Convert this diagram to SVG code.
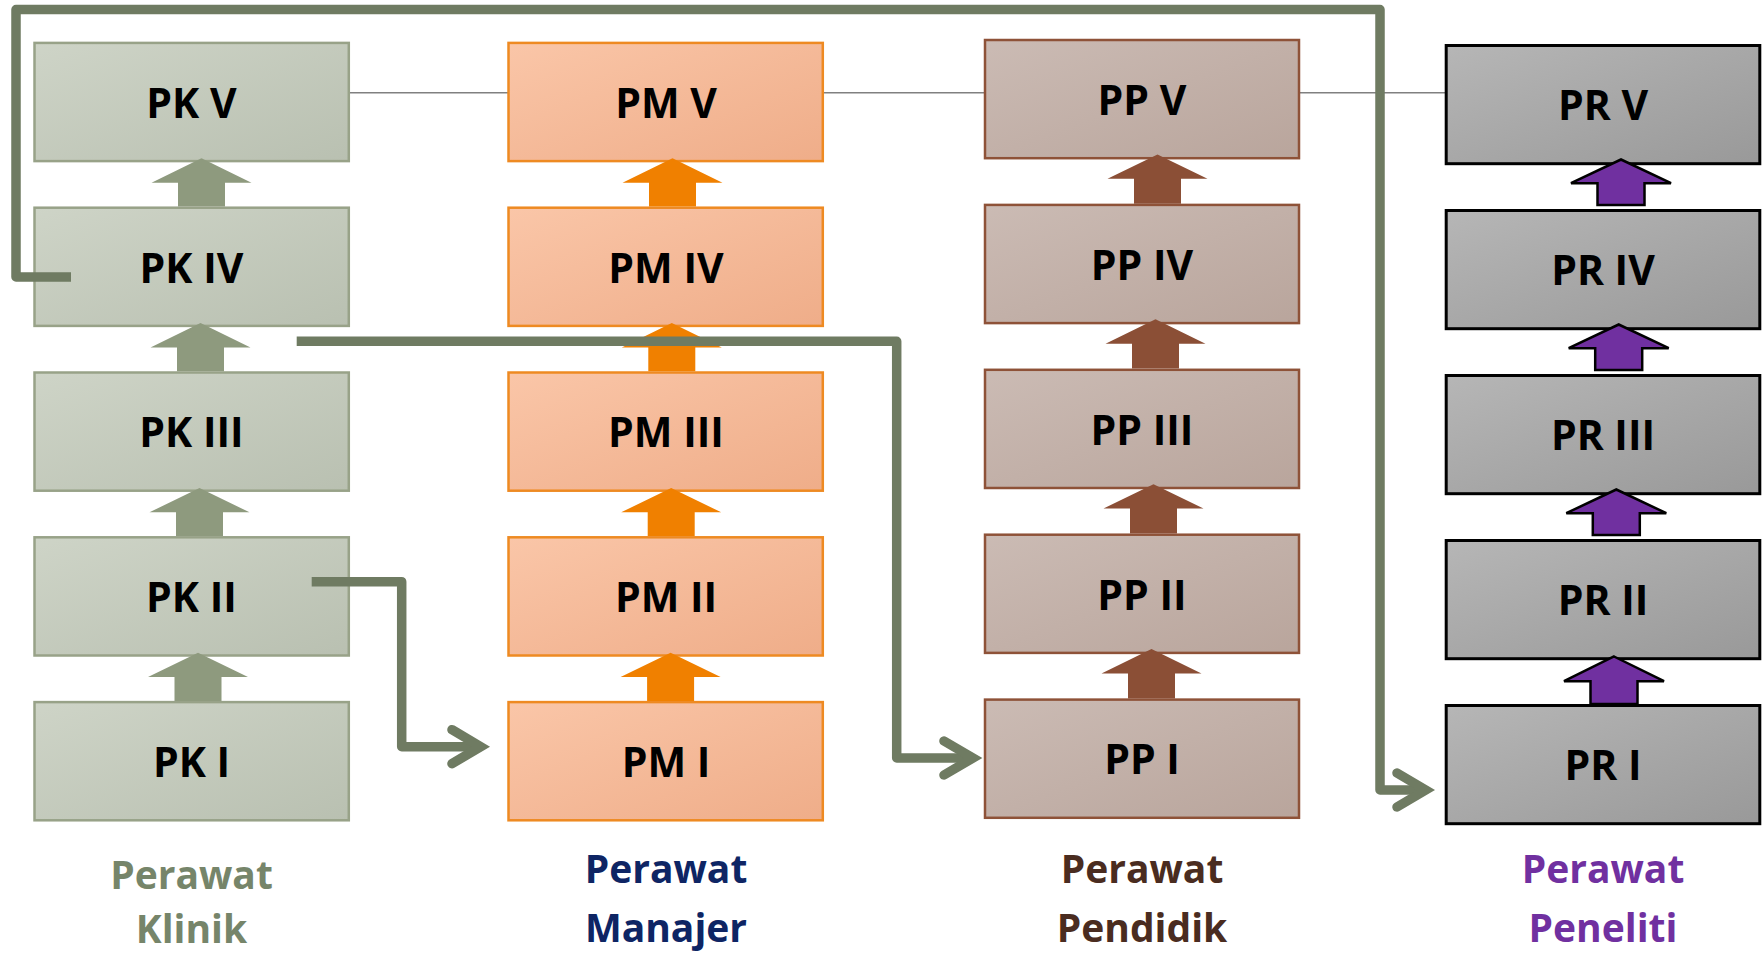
<svg xmlns="http://www.w3.org/2000/svg" width="1763" height="953" viewBox="0 0 1763 953">
<defs>
<linearGradient id="gPK" x1="0" y1="0" x2="1" y2="1"><stop offset="0" stop-color="#CED4C7"/><stop offset="1" stop-color="#B9C0B1"/></linearGradient>
<linearGradient id="gPM" x1="0" y1="0" x2="1" y2="1"><stop offset="0" stop-color="#FAC6A8"/><stop offset="1" stop-color="#EFAD89"/></linearGradient>
<linearGradient id="gPP" x1="0" y1="0" x2="1" y2="1"><stop offset="0" stop-color="#CBBBB4"/><stop offset="1" stop-color="#B9A59C"/></linearGradient>
<linearGradient id="gPR" x1="0" y1="0" x2="1" y2="1"><stop offset="0" stop-color="#B6B6B6"/><stop offset="1" stop-color="#999999"/></linearGradient>
</defs>
<style>
.pk{fill:url(#gPK);stroke:#98A288;stroke-width:2.5}
.pm{fill:url(#gPM);stroke:#EE8A22;stroke-width:2.5}
.pp{fill:url(#gPP);stroke:#8E5238;stroke-width:2.5}
.pr{fill:url(#gPR);stroke:#000;stroke-width:3}
.apk{fill:#8E9A7E}
.apm{fill:#F08000}
.app{fill:#8B4F36}
.apr{fill:#7030A0;stroke:#000;stroke-width:2.5;stroke-linejoin:miter}
.t{font-family:"Open Sans","Noto Sans","Liberation Sans",sans-serif;font-weight:700;font-size:41px;fill:#000;text-anchor:middle}
.lb{font-family:"Open Sans","Noto Sans","Liberation Sans",sans-serif;font-weight:700;font-size:39px;text-anchor:middle}
.thin{stroke:#808080;stroke-width:1.6;fill:none}
.con{stroke:#6F7B62;stroke-width:9.5;fill:none;stroke-linejoin:round}
.chev{stroke:#6F7B62;stroke-width:9.5;fill:none;stroke-linejoin:miter;stroke-linecap:round}
</style>
<g id="links">
<line class="thin" x1="349" y1="92.7" x2="508" y2="92.7"/>
<line class="thin" x1="824" y1="92.7" x2="984" y2="92.7"/>
<line class="thin" x1="1300" y1="92.7" x2="1445" y2="92.7"/>
</g>
<g id="col-pk">
<g id="pk5"><rect class="pk" x="34.5" y="42.9" width="314.3" height="118.2"/><text class="t" x="191.5" y="117.7">PK V</text></g>
<g id="pk4"><rect class="pk" x="34.5" y="207.7" width="314.3" height="118.2"/><text class="t" x="191.5" y="282.5">PK IV</text></g>
<g id="pk3"><rect class="pk" x="34.5" y="372.5" width="314.3" height="118.2"/><text class="t" x="191.5" y="447.3">PK III</text></g>
<g id="pk2"><rect class="pk" x="34.5" y="537.3" width="314.3" height="118.2"/><text class="t" x="191.5" y="612.1">PK II</text></g>
<g id="pk1"><rect class="pk" x="34.5" y="702.1" width="314.3" height="118.2"/><text class="t" x="191.5" y="776.9">PK I</text></g>
<polygon class="apk" points="201.5,158.3 251.5,182.7 225,182.7 225,206.5 178,206.5 178,182.7 151.5,182.7"/>
<polygon class="apk" points="200.5,323.1 250.5,347.5 224,347.5 224,371.3 177,371.3 177,347.5 150.5,347.5"/>
<polygon class="apk" points="199.5,487.9 249.5,512.3 223,512.3 223,536.1 176,536.1 176,512.3 149.5,512.3"/>
<polygon class="apk" points="198,652.7 248,677.1 221.5,677.1 221.5,700.9 174.5,700.9 174.5,677.1 148,677.1"/>
</g>
<g id="col-pm">
<g id="pm5"><rect class="pm" x="508.5" y="42.9" width="314.3" height="118.2"/><text class="t" x="666" y="117.7">PM V</text></g>
<g id="pm4"><rect class="pm" x="508.5" y="207.7" width="314.3" height="118.2"/><text class="t" x="666" y="282.5">PM IV</text></g>
<g id="pm3"><rect class="pm" x="508.5" y="372.5" width="314.3" height="118.2"/><text class="t" x="666" y="447.3">PM III</text></g>
<g id="pm2"><rect class="pm" x="508.5" y="537.3" width="314.3" height="118.2"/><text class="t" x="666" y="612.1">PM II</text></g>
<g id="pm1"><rect class="pm" x="508.5" y="702.1" width="314.3" height="118.2"/><text class="t" x="666" y="776.9">PM I</text></g>
<polygon class="apm" points="672.5,158.3 722.5,182.7 696,182.7 696,206.5 649,206.5 649,182.7 622.5,182.7"/>
<polygon class="apm" points="671.8,323.1 721.8,347.5 695.3,347.5 695.3,371.3 648.3,371.3 648.3,347.5 621.8,347.5"/>
<polygon class="apm" points="671.2,487.9 721.2,512.3 694.7,512.3 694.7,536.1 647.7,536.1 647.7,512.3 621.2,512.3"/>
<polygon class="apm" points="670.6,652.7 720.6,677.1 694.1,677.1 694.1,700.9 647.1,700.9 647.1,677.1 620.6,677.1"/>
</g>
<g id="col-pp">
<g id="pp5"><rect class="pp" x="985" y="40" width="314" height="118.2"/><text class="t" x="1142" y="114.8">PP V</text></g>
<g id="pp4"><rect class="pp" x="985" y="204.9" width="314" height="118.2"/><text class="t" x="1142" y="279.7">PP IV</text></g>
<g id="pp3"><rect class="pp" x="985" y="369.8" width="314" height="118.2"/><text class="t" x="1142" y="444.6">PP III</text></g>
<g id="pp2"><rect class="pp" x="985" y="534.7" width="314" height="118.2"/><text class="t" x="1142" y="609.5">PP II</text></g>
<g id="pp1"><rect class="pp" x="985" y="699.6" width="314" height="118.2"/><text class="t" x="1142" y="774.4">PP I</text></g>
<polygon class="app" points="1157.5,154.4 1207.5,178.8 1181,178.8 1181,203.7 1134,203.7 1134,178.8 1107.5,178.8"/>
<polygon class="app" points="1155.5,319.3 1205.5,343.7 1179,343.7 1179,368.6 1132,368.6 1132,343.7 1105.5,343.7"/>
<polygon class="app" points="1153.5,484.2 1203.5,508.6 1177,508.6 1177,533.5 1130,533.5 1130,508.6 1103.5,508.6"/>
<polygon class="app" points="1151.5,649.1 1201.5,673.5 1175,673.5 1175,698.4 1128,698.4 1128,673.5 1101.5,673.5"/>
</g>
<g id="col-pr">
<g id="pr5"><rect class="pr" x="1446.2" y="45.5" width="313.6" height="118.2"/><text class="t" x="1603" y="119.8">PR V</text></g>
<g id="pr4"><rect class="pr" x="1446.2" y="210.5" width="313.6" height="118.2"/><text class="t" x="1603" y="284.8">PR IV</text></g>
<g id="pr3"><rect class="pr" x="1446.2" y="375.5" width="313.6" height="118.2"/><text class="t" x="1603" y="449.8">PR III</text></g>
<g id="pr2"><rect class="pr" x="1446.2" y="540.5" width="313.6" height="118.2"/><text class="t" x="1603" y="614.8">PR II</text></g>
<g id="pr1"><rect class="pr" x="1446.2" y="705.5" width="313.6" height="118.2"/><text class="t" x="1603" y="779.8">PR I</text></g>
<polygon class="apr" points="1621,159.5 1671,183.2 1644.5,183.2 1644.5,205 1597.5,205 1597.5,183.2 1571,183.2"/>
<polygon class="apr" points="1618.7,324.5 1668.7,348.2 1642.2,348.2 1642.2,370 1595.2,370 1595.2,348.2 1568.7,348.2"/>
<polygon class="apr" points="1616.3,489.5 1666.3,513.2 1639.8,513.2 1639.8,535 1592.8,535 1592.8,513.2 1566.3,513.2"/>
<polygon class="apr" points="1614,656.5 1664,681.2 1637.5,681.2 1637.5,704 1590.5,704 1590.5,681.2 1564,681.2"/>
</g>
<g id="connectors">
<path class="con" d="M71,277 H16 V9.5 H1380 V790 H1424"/>
<polyline class="chev" points="1397,773 1425.7,790 1397,807"/>
<path class="con" d="M296.7,341.3 H896.7 V758 H971"/>
<polyline class="chev" points="944,741 973,758 944,775"/>
<path class="con" d="M311.7,581.7 H401.7 V746.7 H479"/>
<polyline class="chev" points="452,729.7 480.7,746.7 452,763.7"/>
</g>
<g id="labels">
<text class="lb" x="191.5" y="889" fill="#76856A">Perawat</text>
<text class="lb" x="191.5" y="943" fill="#76856A">Klinik</text>
<text class="lb" x="666" y="883.3" fill="#0E2564">Perawat</text>
<text class="lb" x="666" y="941.7" fill="#0E2564">Manajer</text>
<text class="lb" x="1142" y="883.3" fill="#4A2C20">Perawat</text>
<text class="lb" x="1142" y="941.7" fill="#4A2C20">Pendidik</text>
<text class="lb" x="1603" y="883.3" fill="#7030A0">Perawat</text>
<text class="lb" x="1603" y="941.7" fill="#7030A0">Peneliti</text>
</g>
</svg>
